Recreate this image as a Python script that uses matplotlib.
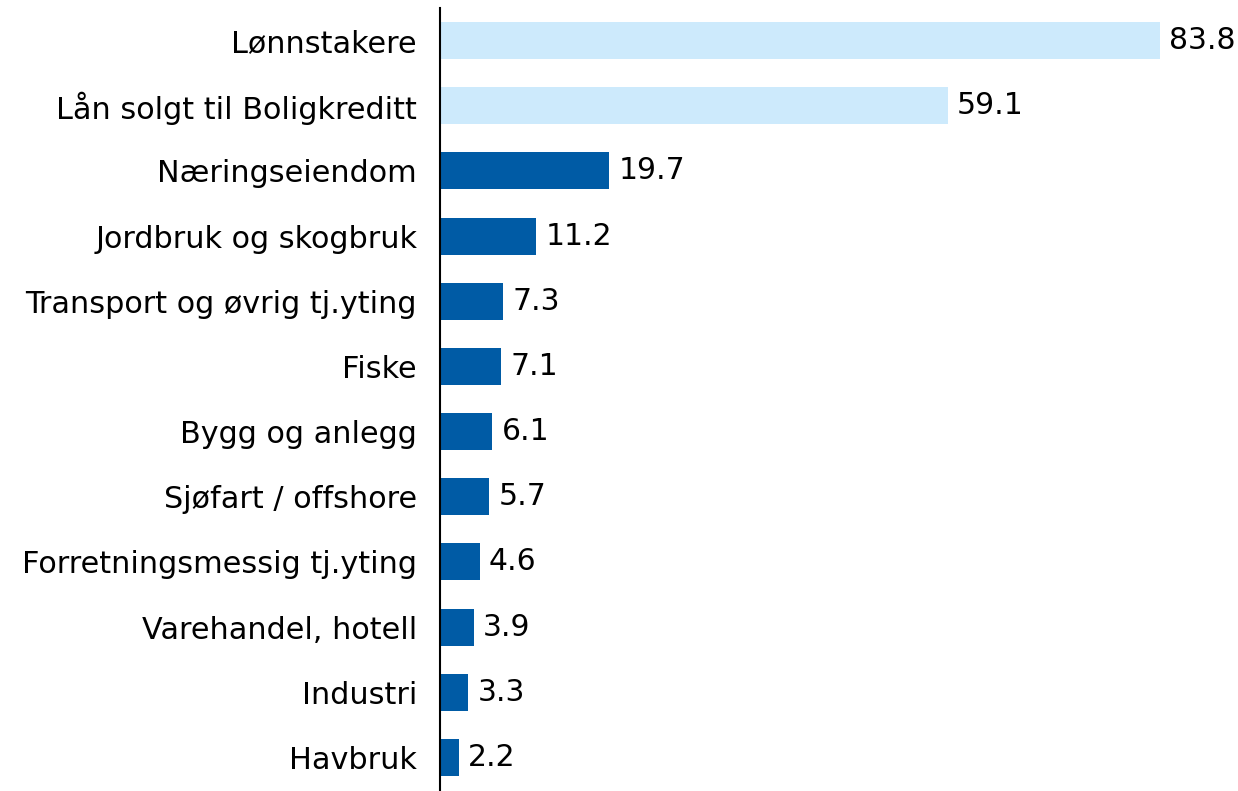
import matplotlib
matplotlib.use("Agg")
import matplotlib.pyplot as plt

plt.rcParams['font.family'] = ['DejaVu Sans']

categories = ["Lønnstakere", "Lån solgt til Boligkreditt", "Næringseiendom",
              "Jordbruk og skogbruk", "Transport og øvrig tj.yting", "Fiske",
              "Bygg og anlegg", "Sjøfart / offshore", "Forretningsmessig tj.yting",
              "Varehandel, hotell", "Industri", "Havbruk"]
values = [83.8, 59.1, 19.7, 11.2, 7.3, 7.1, 6.1, 5.7, 4.6, 3.9, 3.3, 2.2]
light = [True, True] + [False] * 10

fig = plt.figure(figsize=(12.38, 7.91), dpi=100)
ax = fig.add_axes([440 / 1238, 1 - 790 / 791, 1 - 440 / 1238, 782 / 791])

ypos = list(range(len(categories)))
colors = ["#cdeafc" if l else "#005ba5" for l in light]
ax.barh(ypos, values, height=0.57, color=colors)
for y, v in zip(ypos, values):
    ax.text(v + 1.1, y, f"{v:.1f}", va="center", ha="left", fontsize=21.5)

ax.set_yticks(ypos)
ax.set_yticklabels(categories, fontsize=21.8)
ax.tick_params(axis="y", length=0, pad=16.5)
ax.set_xticks([])
ax.set_ylim(len(categories) - 0.5, -0.5)
ax.set_xlim(0, 92.9)
for s in ["top", "right", "bottom"]:
    ax.spines[s].set_visible(False)
ax.spines["left"].set_linewidth(1.5)

fig.savefig("out.png", dpi=100)
